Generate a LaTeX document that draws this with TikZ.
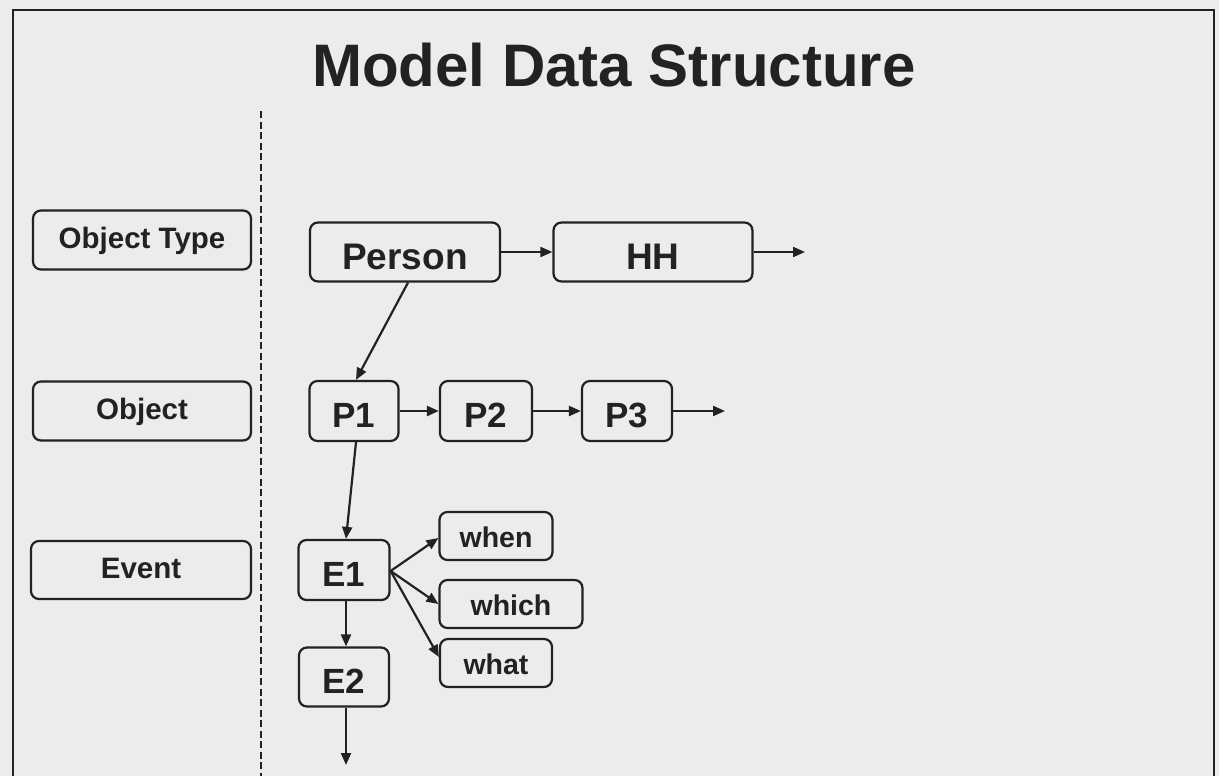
\documentclass[tikz,border=0pt]{standalone}
\usepackage{fontspec}
\setmainfont{Liberation Sans}
\usetikzlibrary{arrows.meta}

\definecolor{paper}{HTML}{ECECEC}
\definecolor{ink}{HTML}{222222}

\tikzset{
  box/.style={draw=ink, line width=2.2pt, rounded corners=8pt, fill=none,
    text=ink, inner sep=0pt, align=center, text depth=0pt},
  labelbox/.style={box, minimum width=218pt, minimum height=59pt,
    font=\fontsize{29.5}{30}\selectfont\bfseries, text height=16pt},
  typebox/.style={box, minimum height=59pt,
    font=\fontsize{37}{38}\selectfont\bfseries, text height=34.5pt},
  objbox/.style={box, minimum height=60pt,
    font=\fontsize{35}{36}\selectfont\bfseries, text height=33pt},
  attrbox/.style={box, minimum height=48pt,
    font=\fontsize{28.5}{29}\selectfont\bfseries, text height=22.5pt},
  link/.style={draw=ink, line width=2.2pt, -{Triangle[length=12pt,width=10pt]}},
}

\begin{document}
\begin{tikzpicture}[x=1pt, y=-1pt]
  % page and frame
  \fill[paper] (0,0) rectangle (1219,776);
  \useasboundingbox (0,0) rectangle (1219,776);
  \draw[ink, line width=2.2pt] (13,776) -- (13,10) -- (1214,10) -- (1214,776);

  % title
  \node[anchor=base, text=ink, font=\fontsize{60}{62}\selectfont\bfseries] (title) at (614,87) {Model Data Structure};

  % separator between level labels and the structure
  \draw[ink, line width=2.2pt, dash pattern=on 7pt off 3.5pt] (261,111) -- (261,776);

  % level labels
  \node[labelbox] (ltype)  at (142,240) {Object Type};
  \node[labelbox] (lobj)   at (142,411) {Object};
  \node[labelbox, minimum width=220pt, minimum height=58pt] (levent) at (141,570) {Event};

  % object types
  \node[typebox, minimum width=190pt] (person) at (405,252) {Person};
  \node[typebox, minimum width=199pt] (hh)     at (653,252) {HH};
  \coordinate (hhnext) at (805,252);

  % objects
  \node[objbox, minimum width=89pt] (p1) at (354,411) {P1};
  \node[objbox, minimum width=92pt] (p2) at (486,411) {P2};
  \node[objbox, minimum width=90pt] (p3) at (627,411) {P3};
  \coordinate (p3next) at (725,411);

  % events
  \node[objbox, minimum width=91pt] (e1) at (344,570) {E1};
  \node[objbox, minimum width=90pt, minimum height=59pt] (e2) at (344,677) {E2};
  \coordinate (e2next) at (346,765);

  % event attributes
  \node[attrbox, minimum width=113pt] (when)  at (496,536) {when};
  \node[attrbox, minimum width=143pt] (which) at (511,604) {which};
  \node[attrbox, minimum width=112pt] (what)  at (496,663) {what};

  % connectors
  \draw[link] (person) -- (hh);
  \draw[link] (hh) -- (hhnext);
  \draw[link] ([xshift=3pt]person.south) -- ([xshift=2pt]p1.north);
  \draw[link] (p1) -- (p2);
  \draw[link] (p2) -- (p3);
  \draw[link] (p3) -- (p3next);
  \draw[link] ([xshift=2pt]p1.south) -- ([xshift=2pt]e1.north);
  \draw[link] ([xshift=2pt]e1.south) -- ([xshift=2pt]e2.north);
  \draw[link] ([xshift=2pt]e2.south) -- (e2next);
  \coordinate (e1r) at ([yshift=-1pt]e1.east);
  \draw[link] (e1r) -- ([yshift=-2pt]when.west);
  \draw[link] (e1r) -- (which.west);
  \draw[link] (e1r) -- ([yshift=6pt]what.west);
\end{tikzpicture}
\end{document}
